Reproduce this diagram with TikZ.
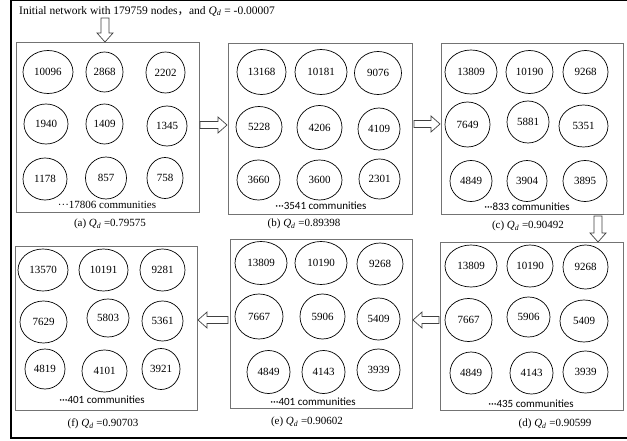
\documentclass[tikz,border=0pt]{standalone}
\usepackage{fontspec}
\setmainfont{Liberation Serif}
\newfontfamily\carl{Carlito}
\newfontfamily\cjkf{Noto Sans CJK SC}
\usetikzlibrary{shapes.geometric}
\definecolor{boxgray}{RGB}{115,115,115}
\newcommand\Qd{\textit{Q}\textsubscript{\textit{d}}}
\newcommand\dotsm{\textperiodcentered\textperiodcentered\textperiodcentered}
% block arrows
\newcommand\barR[3]{\draw[barrow] (#1,#3-3.5) -- (#2-9,#3-3.5) -- (#2-9,#3-8) -- (#2,#3) -- (#2-9,#3+8) -- (#2-9,#3+3.5) -- (#1,#3+3.5) -- cycle;}
\newcommand\barL[3]{\draw[barrow] (#2,#3-3.5) -- (#1+9,#3-3.5) -- (#1+9,#3-8) -- (#1,#3) -- (#1+9,#3+8) -- (#1+9,#3+3.5) -- (#2,#3+3.5) -- cycle;}
\newcommand\barD[3]{\draw[barrow] (#1-4,#2) -- (#1-4,#3-9) -- (#1-8,#3-9) -- (#1,#3) -- (#1+8,#3-9) -- (#1+4,#3-9) -- (#1+4,#2) -- cycle;}
\begin{document}
\begin{tikzpicture}[x=1pt,y=-1pt,
  panelbox/.style={draw=boxgray,line width=0.8pt,inner sep=0,rectangle},
  comm/.style={draw,ellipse,inner sep=0,line width=0.7pt,font=\fontsize{11}{13}\selectfont},
  barrow/.style={draw=black!75,line width=0.7pt,fill=white},
  captxt/.style={font=\fontsize{11}{13}\selectfont,inner sep=0},
  cnt/.style={font=\carl\fontsize{11}{13}\selectfont,inner sep=0}]
\useasboundingbox (0,0) rectangle (627,441);
\draw[line width=2pt] (11,0) -- (11,438) -- (640,438);
\draw[line width=2pt] (11,0) -- (640,0);
\node[captxt,anchor=west,font=\fontsize{11.5}{13}\selectfont] (title) at (19,11) {Initial network with 179759 nodes{\cjkf ，}and \Qd{} = -0.00007};
% panels
\node[panelbox,minimum width=183,minimum height=170] (A) at (107.5,127) {};
\node[panelbox,minimum width=184,minimum height=171] (B) at (320,128.5) {};
\node[panelbox,minimum width=182,minimum height=171] (C) at (532,128.5) {};
\node[panelbox,minimum width=183,minimum height=168] (D) at (531.5,326) {};
\node[panelbox,minimum width=182,minimum height=169] (E) at (321,323.5) {};
\node[panelbox,minimum width=182,minimum height=164] (F) at (106,328) {};
% panel a
\node[comm,minimum width=50,minimum height=43] (a1) at (48,72) {10096};
\node[comm,minimum width=37,minimum height=40] (a2) at (104.5,72) {2868};
\node[comm,minimum width=39,minimum height=41] (a3) at (165.5,72.5) {2202};
\node[comm,minimum width=44,minimum height=40] (a4) at (46,124) {1940};
\node[comm,minimum width=37,minimum height=40] (a5) at (104.5,124) {1409};
\node[comm,minimum width=40,minimum height=40] (a6) at (167,126) {1345};
\node[comm,minimum width=44,minimum height=42] (a7) at (45,179) {1178};
\node[comm,minimum width=41,minimum height=42] (a8) at (106,178) {857};
\node[comm,minimum width=36,minimum height=41] (a9) at (165,178) {758};
\node[captxt] (ta) at (107,205) {\dotsm17806 communities};
\node[captxt] (ca) at (110,224) {(a) \Qd{} =0.79575};
% panel b
\node[comm,minimum width=49,minimum height=45] (b1) at (261.5,72) {13168};
\node[comm,minimum width=52,minimum height=45] (b2) at (321,72) {10181};
\node[comm,minimum width=47,minimum height=43] (b3) at (378,73) {9076};
\node[comm,minimum width=46,minimum height=41] (b4) at (259,127) {5228};
\node[comm,minimum width=45,minimum height=44] (b5) at (319.5,127.5) {4206};
\node[comm,minimum width=42,minimum height=42] (b6) at (379,129) {4109};
\node[comm,minimum width=43,minimum height=40] (b7) at (258.5,180) {3660};
\node[comm,minimum width=45,minimum height=40] (b8) at (319.5,180) {3600};
\node[comm,minimum width=41,minimum height=40] (b9) at (379.5,179) {2301};
\node[cnt] (tb) at (321,206) {\dotsm3541 communities};
\node[captxt] (cb) at (304,224) {(b) \Qd{} =0.89398};
% panel c
\node[comm,minimum width=52,minimum height=44] (c1) at (471,72) {13809};
\node[comm,minimum width=47,minimum height=43] (c2) at (529.5,72) {10190};
\node[comm,minimum width=45,minimum height=43] (c3) at (585.5,72) {9268};
\node[comm,minimum width=45,minimum height=45] (c4) at (467.5,124.5) {7649};
\node[comm,minimum width=42,minimum height=42] (c5) at (528,122) {5881};
\node[comm,minimum width=49,minimum height=42] (c6) at (583.5,126) {5351};
\node[comm,minimum width=42,minimum height=41] (c7) at (471,181) {4849};
\node[comm,minimum width=40,minimum height=41] (c8) at (527,181) {3904};
\node[comm,minimum width=44,minimum height=41] (c9) at (585,181) {3895};
\node[cnt] (tc) at (527,207) {\dotsm833 communities};
\node[captxt] (cc) at (528,226) {(c) \Qd{} =0.90492};
% panel d
\node[comm,minimum width=52,minimum height=42] (d1) at (471,266) {13809};
\node[comm,minimum width=46,minimum height=42] (d2) at (530,266) {10190};
\node[comm,minimum width=45,minimum height=44] (d3) at (585.5,267) {9268};
\node[comm,minimum width=47,minimum height=43] (d4) at (468.5,320) {7667};
\node[comm,minimum width=43,minimum height=40] (d5) at (528.5,317) {5906};
\node[comm,minimum width=48,minimum height=42] (d6) at (584,321) {5409};
\node[comm,minimum width=42,minimum height=42] (d7) at (471,373) {4849};
\node[comm,minimum width=43,minimum height=42] (d8) at (531.5,373) {4143};
\node[comm,minimum width=45,minimum height=42] (d9) at (585.5,372) {3939};
\node[cnt] (td) at (531,404) {\dotsm435 communities};
\node[captxt] (cd) at (555,424) {(d) \Qd{} =0.90599};
% panel e
\node[comm,minimum width=52,minimum height=43] (e1) at (261,263) {13809};
\node[comm,minimum width=52,minimum height=43] (e2) at (321,263) {10190};
\node[comm,minimum width=46,minimum height=42] (e3) at (380,264) {9268};
\node[comm,minimum width=48,minimum height=45] (e4) at (259,316.5) {7667};
\node[comm,minimum width=45,minimum height=45] (e5) at (322.5,316.5) {5906};
\node[comm,minimum width=43,minimum height=42] (e6) at (378.5,319) {5409};
\node[comm,minimum width=43,minimum height=43] (e7) at (268.5,372) {4849};
\node[comm,minimum width=43,minimum height=43] (e8) at (323.5,372) {4143};
\node[comm,minimum width=43,minimum height=42] (e9) at (378.5,370) {3939};
\node[cnt] (te) at (313,402) {\dotsm401 communities};
\node[captxt] (ce) at (307,422) {(e) \Qd{} =0.90602};
% panel f
\node[comm,minimum width=50,minimum height=42] (f1) at (43,270) {13570};
\node[comm,minimum width=49,minimum height=42] (f2) at (103.5,270) {10191};
\node[comm,minimum width=45,minimum height=42] (f3) at (162.5,270) {9281};
\node[comm,minimum width=47,minimum height=42] (f4) at (43.5,322) {7629};
\node[comm,minimum width=42,minimum height=38] (f5) at (108,318) {5803};
\node[comm,minimum width=41,minimum height=40] (f6) at (162.5,321) {5361};
\node[comm,minimum width=40,minimum height=40] (f7) at (45,369) {4819};
\node[comm,minimum width=45,minimum height=42] (f8) at (104.5,371) {4101};
\node[comm,minimum width=38,minimum height=41] (f9) at (161,369) {3921};
\node[cnt] (tf) at (102,400) {\dotsm401 communities};
\node[captxt] (cf) at (103,424) {(f) \Qd{} =0.90703};
% block arrows
\barD{105}{18}{42}
\barR{200}{227}{125}
\barR{414}{440}{124}
\barD{598}{216}{242}
\barL{413}{439}{320}
\barL{198}{228}{320}
\end{tikzpicture}
\end{document}
